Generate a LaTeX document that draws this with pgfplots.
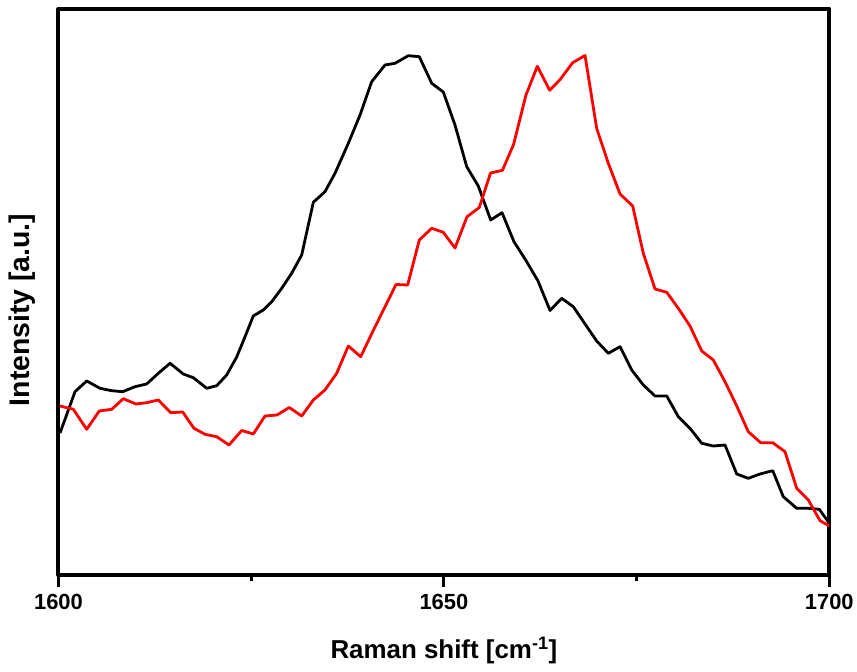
\documentclass[border=0pt]{standalone}
\usepackage{fontspec}
\setmainfont{Liberation Sans}
\usepackage{pgfplots}
\pgfplotsset{compat=1.18}

\begin{document}
\begin{tikzpicture}
\useasboundingbox (-58.5bp,-97bp) rectangle (798.5bp,575bp);
\begin{axis}[
    at={(0,0)}, anchor=south west,
    scale only axis,
    width=770.8bp, height=566.3bp,
    xmin=1600, xmax=1700,
    ymin=0, ymax=566.3,
    axis line style={line width=4bp},
    xtick={1600,1650,1700},
    xticklabels={1600,1650,1700},
    minor xtick={1625,1675},
    ytick=\empty,
    xtick pos=left,
    tick align=outside,
    major tick length=12bp,
    minor tick length=6bp,
    every tick/.style={line width=3bp, black},
    xticklabel style={font=\fontsize{22}{26}\selectfont\bfseries, yshift=-4bp},
    xlabel={Raman shift [cm\textsuperscript{-1}]},
    ylabel={Intensity [a.u.]},
    xlabel style={font=\fontsize{26}{30}\selectfont\bfseries,
        at={(axis description cs:0.5,-0.1324)}, anchor=center},
    ylabel style={font=\fontsize{28.5}{32}\selectfont\bfseries,
        at={(axis description cs:-0.0470,0.468)}, anchor=center, rotate=0},
    line join=round,
]
% black spectrum
\addplot[black, line width=2.8bp] coordinates {
(1600.2,142) (1602.14,183.3) (1603.66,194) (1605.38,186.7) (1606.90,184.3)
(1608.33,183.3) (1609.92,188.3) (1611.44,191) (1612.95,201.7) (1614.47,211.7)
(1616.19,201) (1617.49,197.3) (1619.23,186.7) (1620.52,189.3) (1621.82,200)
(1623.12,218) (1624.20,238.3) (1625.27,259) (1626.57,265) (1627.66,273.3)
(1628.96,286.7) (1630.25,301.7) (1631.55,320) (1633.06,372.7) (1634.57,383.3)
(1635.87,401.7) (1637.60,431.7) (1639.12,460) (1640.63,493.3) (1642.36,510)
(1643.66,511.7) (1645.38,519.3) (1646.81,518.3) (1648.42,491.7) (1649.92,483)
(1651.44,450) (1652.96,408.3) (1654.46,389) (1656.07,355) (1657.54,362.3)
(1659.09,333.3) (1660.65,314.5) (1662.21,294) (1663.77,264.5) (1665.28,276.7)
(1666.79,268.3) (1668.31,251) (1669.82,234) (1671.33,221.7) (1672.85,228.3)
(1674.37,205) (1675.87,190) (1677.39,179) (1678.91,179) (1680.41,158.3)
(1681.93,146.7) (1683.45,131.7) (1684.95,129) (1686.47,130) (1687.99,101)
(1689.49,96.7) (1691.01,101) (1692.66,104.3) (1694.03,78.3) (1695.77,66.7)
(1697.28,66.7) (1698.70,65.7) (1700,51.7)
};
% red spectrum
\addplot[red, line width=2.8bp] coordinates {
(1600.2,169) (1601.92,165.7) (1603.66,145.7) (1605.29,164) (1606.90,165.7)
(1608.41,176.3) (1610.05,171) (1611.44,172.3) (1612.95,175) (1614.56,162.3)
(1616.11,163) (1617.58,146.7) (1619.01,140.7) (1620.52,138.3) (1622.12,130)
(1623.77,144.5) (1625.27,141) (1626.79,159) (1628.35,160) (1629.94,167.5)
(1631.55,159) (1633.06,175) (1634.57,185) (1636.09,201.7) (1637.60,229)
(1639.21,218.3) (1640.76,243.3) (1642.36,268.3) (1643.79,290.5) (1645.30,290)
(1646.81,335) (1648.42,346.7) (1649.92,342.7) (1651.44,327) (1653.00,358.3)
(1654.59,367.5) (1656.05,402) (1657.60,404.7) (1659.06,431) (1660.65,480)
(1662.12,508.7) (1663.73,484.7) (1665.06,495.3) (1666.71,512.3) (1668.31,519.5)
(1669.82,446.7) (1671.33,411.7) (1672.85,381) (1674.49,369) (1675.87,321.7)
(1677.39,286) (1678.91,282.7) (1680.41,266.7) (1681.93,249) (1683.45,224)
(1684.95,215) (1686.47,193.3) (1687.99,169) (1689.49,143.3) (1691.10,132.3)
(1692.66,132.3) (1694.25,123.3) (1695.77,86.7) (1697.28,75) (1698.80,54.3)
(1700,49)
};
\end{axis}
\end{tikzpicture}
\end{document}
